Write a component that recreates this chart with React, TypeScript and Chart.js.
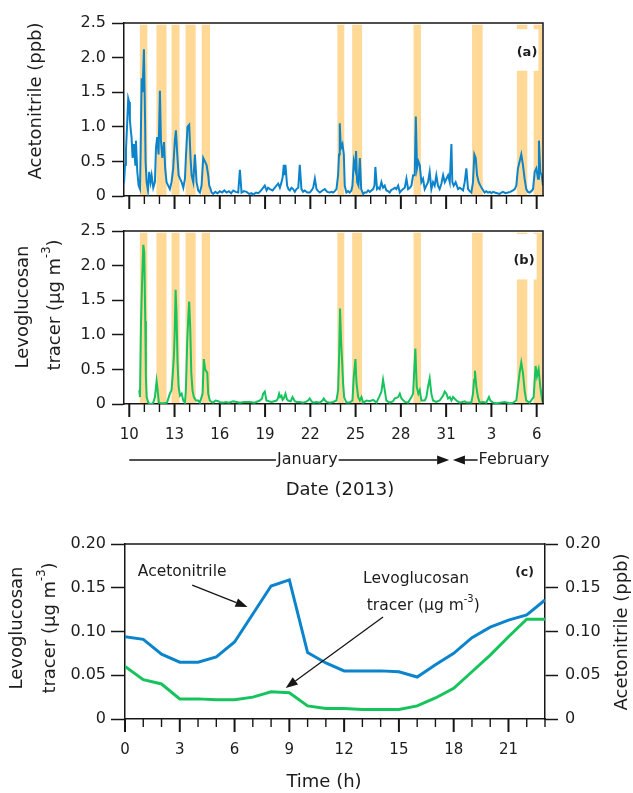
import { useEffect, useRef } from 'react';
import Chart from 'chart.js/auto';

// ---------------- Data ----------------
// Panel (a): acetonitrile (ppb); x = day counted from 1 January 2013 (Feb 1 = 32)
const acetoDays = [
  9.65, 9.72, 9.78, 9.86, 9.93, 9.99, 10.04, 10.1, 10.15, 10.22, 10.31, 10.4, 10.44, 10.53, 10.62, 10.71,
  10.75, 10.82, 10.88, 10.97, 11.04, 11.08, 11.15, 11.24, 11.32, 11.41, 11.48, 11.59, 11.7, 11.77, 11.85,
  11.94, 12.03, 12.1, 12.19, 12.3, 12.38, 12.47, 12.58, 12.69, 12.8, 12.91, 13.02, 13.09, 13.18, 13.27,
  13.36, 13.47, 13.58, 13.69, 13.75, 13.86, 13.97, 14.06, 14.13, 14.24, 14.35, 14.46, 14.57, 14.68, 14.79,
  14.9, 15.01, 15.12, 15.23, 15.3, 15.39, 15.45, 15.56, 15.7, 15.85, 16.0, 16.15, 16.3, 16.45, 16.6, 16.75,
  16.89, 17.05, 17.22, 17.33, 17.44, 17.6, 17.77, 17.95, 18.1, 18.21, 18.4, 18.55, 18.65, 18.8, 18.98, 19.1,
  19.2, 19.32, 19.5, 19.65, 19.75, 19.87, 19.98, 20.09, 20.17, 20.24, 20.3, 20.35, 20.46, 20.55, 20.64,
  20.75, 20.86, 20.97, 21.08, 21.2, 21.3, 21.41, 21.52, 21.63, 21.8, 21.96, 22.08, 22.19, 22.3, 22.41,
  22.52, 22.63, 22.8, 22.96, 23.12, 23.29, 23.4, 23.51, 23.62, 23.73, 23.84, 23.9, 23.95, 24.0, 24.04,
  24.13, 24.22, 24.28, 24.39, 24.5, 24.61, 24.72, 24.79, 24.88, 24.97, 25.03, 25.1, 25.19, 25.28, 25.37,
  25.5, 25.6, 25.72, 25.83, 25.94, 26.05, 26.16, 26.25, 26.31, 26.42, 26.5, 26.6, 26.71, 26.82, 26.93,
  27.04, 27.15, 27.26, 27.37, 27.48, 27.6, 27.7, 27.82, 27.93, 28.04, 28.15, 28.26, 28.37, 28.48, 28.6,
  28.7, 28.81, 28.92, 28.99, 29.07, 29.16, 29.25, 29.36, 29.47, 29.58, 29.69, 29.8, 29.91, 30.02, 30.13,
  30.24, 30.35, 30.46, 30.57, 30.69, 30.8, 30.91, 31.02, 31.13, 31.24, 31.35, 31.41, 31.5, 31.63, 31.79,
  31.9, 32.01, 32.12, 32.23, 32.34, 32.45, 32.56, 32.67, 32.78, 32.87, 32.96, 33.05, 33.16, 33.27, 33.4,
  33.55, 33.66, 33.78, 33.9, 34.0, 34.11, 34.22, 34.38, 34.55, 34.66, 34.77, 34.93, 35.1, 35.25, 35.43,
  35.55, 35.65, 35.76, 35.87, 35.98, 36.09, 36.2, 36.31, 36.42, 36.53, 36.65, 36.76, 36.87, 36.98, 37.09,
  37.15, 37.24, 37.33, 37.42,
];
const acetoPpb = [
  0.18, 0.45, 0.66, 1.05, 1.41, 1.36, 1.1, 0.95, 0.85, 0.55, 0.75, 0.45, 0.8, 0.35, 0.15, 0.1,
  0.6, 1.7, 1.5, 2.12, 1.2, 0.5, 0.2, 0.08, 0.35, 0.2, 0.3, 0.12, 0.2, 0.7, 0.85,
  0.6, 1.52, 0.8, 0.55, 0.78, 0.4, 0.2, 0.15, 0.1, 0.2, 0.4, 0.8, 0.95, 0.6, 0.3,
  0.25, 0.2, 0.12, 0.25, 0.55, 1.0, 1.03, 0.55, 0.3, 0.2, 0.6, 0.2, 0.08, 0.05, 0.15,
  0.55, 0.5, 0.45, 0.3, 0.15, 0.1, 0.05, 0.03, 0.06, 0.04, 0.07, 0.05, 0.08, 0.05, 0.07, 0.04,
  0.08, 0.06, 0.05, 0.38, 0.05, 0.07, 0.06, 0.03, 0.04, 0.02, 0.05, 0.04, 0.06, 0.1, 0.15, 0.08,
  0.12, 0.1, 0.08, 0.12, 0.15, 0.18, 0.12, 0.2, 0.28, 0.45, 0.3, 0.45, 0.15, 0.1, 0.08,
  0.12, 0.1, 0.06, 0.1, 0.12, 0.45, 0.1, 0.06, 0.08, 0.05, 0.05, 0.08, 0.12, 0.25, 0.1,
  0.07, 0.05, 0.08, 0.1, 0.06, 0.05, 0.06, 0.05, 0.07, 0.1, 0.3, 0.6, 1.05, 0.8, 0.7,
  0.75, 0.6, 0.15, 0.05, 0.07, 0.05, 0.08, 0.15, 0.5, 0.4, 0.65, 0.2, 0.15, 0.55, 0.1,
  0.03, 0.05, 0.05, 0.08, 0.06, 0.08, 0.1, 0.15, 0.42, 0.1, 0.12, 0.1, 0.2, 0.12, 0.15,
  0.08, 0.07, 0.05, 0.09, 0.1, 0.12, 0.1, 0.15, 0.05, 0.08, 0.1, 0.12, 0.25, 0.1, 0.12,
  0.15, 0.3, 0.3, 1.15, 0.4, 0.5, 0.45, 0.2, 0.25, 0.1, 0.15, 0.2, 0.35, 0.1, 0.2,
  0.15, 0.3, 0.15, 0.1, 0.18, 0.3, 0.2, 0.25, 0.3, 0.2, 0.75, 0.2, 0.15, 0.2, 0.1,
  0.12, 0.1, 0.08, 0.2, 0.4, 0.1, 0.07, 0.05, 0.2, 0.6, 0.55, 0.3, 0.2, 0.15, 0.1,
  0.05, 0.07, 0.05, 0.06, 0.04, 0.06, 0.05, 0.04, 0.03, 0.05, 0.06, 0.04, 0.05, 0.06, 0.08,
  0.1, 0.15, 0.4, 0.5, 0.6, 0.45, 0.25, 0.1, 0.06, 0.05, 0.07, 0.1, 0.35, 0.4, 0.25,
  0.8, 0.35, 0.3, 0.15,
];

// Panel (b): levoglucosan tracer (µg m-3)
const levoDays = [
  10.66, 10.71, 10.77, 10.84, 10.93, 10.99, 11.06, 11.1, 11.15, 11.26, 11.37, 11.48, 11.59, 11.7, 11.81,
  11.88, 11.96, 12.1, 12.3, 12.5, 12.69, 12.8, 12.87, 12.96, 13.02, 13.07, 13.13, 13.2, 13.27, 13.36,
  13.47, 13.58, 13.69, 13.75, 13.84, 13.91, 13.97, 14.04, 14.11, 14.19, 14.28, 14.42, 14.57, 14.68,
  14.86, 14.94, 15.03, 15.17, 15.23, 15.34, 15.45, 15.56, 15.72, 15.89, 16.05, 16.23, 16.4, 16.6, 16.89,
  17.1, 17.33, 17.6, 17.99, 18.3, 18.65, 18.8, 18.87, 18.98, 19.09, 19.25, 19.43, 19.6, 19.76, 19.85,
  19.93, 20.0, 20.09, 20.16, 20.24, 20.35, 20.45, 20.53, 20.7, 20.82, 20.97, 21.1, 21.3, 21.5, 21.7,
  21.85, 21.96, 22.08, 22.19, 22.4, 22.63, 22.8, 22.89, 22.98, 23.07, 23.29, 23.51, 23.73, 23.84, 23.91,
  23.97, 24.04, 24.11, 24.17, 24.24, 24.39, 24.61, 24.79, 24.88, 24.99, 25.06, 25.17, 25.28, 25.39, 25.5,
  25.72, 25.94, 26.16, 26.38, 26.6, 26.71, 26.82, 26.93, 27.04, 27.26, 27.48, 27.59, 27.82, 27.93, 28.04,
  28.26, 28.48, 28.7, 28.81, 28.96, 29.05, 29.16, 29.25, 29.36, 29.58, 29.69, 29.8, 29.91, 30.02, 30.13,
  30.35, 30.57, 30.8, 30.91, 31.02, 31.13, 31.24, 31.35, 31.46, 31.68, 31.9, 32.23, 32.34, 32.67, 32.78,
  32.85, 32.91, 33.0, 33.11, 33.22, 33.44, 33.66, 33.84, 33.93, 34.11, 34.33, 34.6, 34.88, 35.21, 35.45,
  35.65, 35.76, 35.87, 35.98, 36.09, 36.2, 36.31, 36.53, 36.8, 36.93, 37.02, 37.13, 37.24, 37.37, 37.42,
];
const levoUg = [
  0.2, 0.1, 1.1, 1.7, 2.3, 2.2, 1.2, 0.4, 0.1, 0.02, 0.0, 0.0, 0.02, 0.1, 0.33,
  0.2, 0.02, 0.01, 0.01, 0.02, 0.15, 0.2, 0.4, 0.7, 1.1, 1.65, 1.3, 0.6, 0.25, 0.12,
  0.15, 0.05, 0.02, 0.2, 0.9, 1.25, 1.48, 1.1, 0.45, 0.2, 0.1, 0.05, 0.05, 0.02,
  0.15, 0.65, 0.5, 0.45, 0.15, 0.05, 0.03, 0.02, 0.05, 0.04, 0.02, 0.02, 0.03, 0.02, 0.04,
  0.03, 0.02, 0.03, 0.03, 0.02, 0.05, 0.08, 0.15, 0.18, 0.05, 0.04, 0.03, 0.04, 0.05, 0.08,
  0.15, 0.1, 0.12, 0.06, 0.08, 0.15, 0.07, 0.05, 0.04, 0.1, 0.04, 0.03, 0.03, 0.02, 0.03,
  0.05, 0.08, 0.04, 0.02, 0.03, 0.02, 0.05, 0.08, 0.05, 0.03, 0.02, 0.03, 0.05, 0.2, 0.7,
  1.38, 0.9, 0.6, 0.3, 0.1, 0.02, 0.02, 0.05, 0.4, 0.65, 0.3, 0.1, 0.05, 0.1, 0.02,
  0.05, 0.04, 0.06, 0.02, 0.12, 0.18, 0.35, 0.2, 0.05, 0.02, 0.04, 0.08, 0.1, 0.15, 0.08,
  0.03, 0.02, 0.1, 0.15, 0.8, 0.25, 0.15, 0.2, 0.05, 0.05, 0.1, 0.25, 0.37, 0.15, 0.05,
  0.03, 0.05, 0.12, 0.18, 0.15, 0.08, 0.1, 0.05, 0.1, 0.05, 0.02, 0.04, 0.02, 0.02, 0.15,
  0.35, 0.48, 0.25, 0.1, 0.02, 0.03, 0.02, 0.1, 0.05, 0.02, 0.01, 0.02, 0.03, 0.01, 0.02,
  0.05, 0.25, 0.45, 0.6, 0.45, 0.2, 0.05, 0.02, 0.1, 0.55, 0.4, 0.5, 0.25, 0.05, 0.02,
];

// Shaded periods (days)
const bandStarts = [10.7, 11.8, 12.8, 13.73, 14.8, 23.79, 24.77, 28.84, 32.72, 35.69, 36.8];
const bandEnds = [11.2, 12.47, 13.33, 14.4, 15.35, 24.25, 25.43, 29.33, 33.42, 36.38, 37.42];

// Date axis ticks
const dateMajorDays = [10, 13, 16, 19, 22, 25, 28, 31, 34, 37];
const dateMajorLabels = ['10', '13', '16', '19', '22', '25', '28', '31', '3', '6'];

// Panel (c): diurnal profiles
const hours = [0, 1, 2, 3, 4, 5, 6, 7, 8, 9, 10, 11, 12, 13, 14, 15, 16, 17, 18, 19, 20, 21, 22, 23];
const acetoDiurnal = [0.094, 0.091, 0.074, 0.065, 0.065, 0.071, 0.088, 0.12, 0.152, 0.159, 0.076, 0.064,
  0.055, 0.055, 0.055, 0.054, 0.048, 0.062, 0.075, 0.093, 0.105, 0.113, 0.119, 0.136];
const levoDiurnal = [0.06, 0.045, 0.04, 0.023, 0.023, 0.022, 0.022, 0.025, 0.031, 0.03, 0.015, 0.012,
  0.012, 0.011, 0.011, 0.011, 0.015, 0.024, 0.035, 0.054, 0.073, 0.094, 0.114, 0.114];
const hourMajor = [0, 3, 6, 9, 12, 15, 18, 21];
const hourLabels = ['0', '3', '6', '9', '12', '15', '18', '21'];

// ---------------- Styles ----------------
const FONT = '"DejaVu Sans", sans-serif';
const TEXT = '#1c1c1c';
const AXIS = '#161616';
const BLUE = '#0c84cc';
const GREEN = '#16c35c';
const BAND = '#ffd995';

type Part = { t: string; sup?: boolean };

function drawRich(ctx: CanvasRenderingContext2D, parts: Part[], cx: number, cy: number, size: number, rotate: boolean, weight = '') {
  ctx.save();
  ctx.translate(cx, cy);
  if (rotate) ctx.rotate(-Math.PI / 2);
  ctx.textBaseline = 'middle';
  ctx.textAlign = 'left';
  ctx.fillStyle = TEXT;
  const supSize = size * 0.64;
  const fontOf = (p: Part) => `${weight} ${p.sup ? supSize : size}px ${FONT}`;
  let w = 0;
  for (const p of parts) { ctx.font = fontOf(p); w += ctx.measureText(p.t).width; }
  let x = -w / 2;
  for (const p of parts) {
    ctx.font = fontOf(p);
    ctx.fillText(p.t, x, p.sup ? -size * 0.45 : 0);
    x += ctx.measureText(p.t).width;
  }
  ctx.restore();
}

function drawArrow(ctx: CanvasRenderingContext2D, x1: number, y1: number, x2: number, y2: number, len = 12, half = 4.5, lw = 1.3) {
  const a = Math.atan2(y2 - y1, x2 - x1);
  const bx = x2 - len * Math.cos(a);
  const by = y2 - len * Math.sin(a);
  ctx.save();
  ctx.strokeStyle = AXIS; ctx.fillStyle = AXIS; ctx.lineWidth = lw;
  ctx.beginPath(); ctx.moveTo(x1, y1); ctx.lineTo(bx, by); ctx.stroke();
  ctx.beginPath(); ctx.moveTo(x2, y2);
  ctx.lineTo(bx + half * Math.sin(a), by - half * Math.cos(a));
  ctx.lineTo(bx - half * Math.sin(a), by + half * Math.cos(a));
  ctx.closePath(); ctx.fill();
  ctx.restore();
}

function drawXTicks(chart: any, from: number, to: number, majors: number[], majorLen: number, minorLen: number) {
  const { ctx, chartArea } = chart;
  const x = chart.scales.x;
  ctx.save();
  ctx.strokeStyle = AXIS;
  for (let d = from; d <= to; d++) {
    const major = majors.includes(d);
    const px = x.getPixelForValue(d);
    ctx.lineWidth = major ? 2 : 1.4;
    ctx.beginPath();
    ctx.moveTo(px, chartArea.bottom);
    ctx.lineTo(px, chartArea.bottom + (major ? majorLen : minorLen));
    ctx.stroke();
  }
  ctx.restore();
}

function drawXLabels(chart: any, values: number[], labels: string[], dy: number, size: number) {
  const { ctx, chartArea } = chart;
  const x = chart.scales.x;
  ctx.save();
  ctx.fillStyle = TEXT;
  ctx.font = `${size}px ${FONT}`;
  ctx.textAlign = 'center';
  ctx.textBaseline = 'middle';
  values.forEach((v, i) => ctx.fillText(labels[i], x.getPixelForValue(v), chartArea.bottom + dy));
  ctx.restore();
}

function drawFrame(chart: any, right: boolean) {
  const { ctx, chartArea: ca } = chart;
  ctx.save();
  ctx.strokeStyle = AXIS;
  ctx.lineWidth = 1.5;
  ctx.beginPath();
  ctx.moveTo(ca.left - 0.75, ca.top);
  ctx.lineTo(ca.right, ca.top);
  if (right) ctx.lineTo(ca.right, ca.bottom);
  ctx.stroke();
  ctx.restore();
}

function drawBands(chart: any) {
  const { ctx, chartArea: ca } = chart;
  const x = chart.scales.x;
  const y = chart.scales.y;
  ctx.save();
  ctx.fillStyle = BAND;
  const top = y.getPixelForValue(2.475);
  bandStarts.forEach((s, i) => {
    const x0 = x.getPixelForValue(s);
    const x1 = Math.min(x.getPixelForValue(bandEnds[i]), ca.right - 1);
    ctx.fillRect(x0, top, x1 - x0, ca.bottom - 1 - top);
  });
  ctx.restore();
}

function drawPanelTag(chart: any, d0: number, d1: number, v0: number, v1: number, text: string, td: number, tv: number) {
  const { ctx } = chart;
  const x = chart.scales.x;
  const y = chart.scales.y;
  ctx.save();
  ctx.fillStyle = '#ffffff';
  const px0 = x.getPixelForValue(d0), px1 = x.getPixelForValue(d1);
  const py0 = y.getPixelForValue(v0), py1 = y.getPixelForValue(v1);
  ctx.fillRect(px0, py0, px1 - px0, py1 - py0);
  ctx.restore();
  drawRich(ctx, [{ t: text }], x.getPixelForValue(td), y.getPixelForValue(tv), 13, false, 'bold');
}

const yTickLabel = (v: any) => (Number(v) === 0 ? '0' : Number(v).toFixed(1));
const yTickLabel2 = (v: any) => (Number(v) === 0 ? '0' : Number(v).toFixed(2));

function timeSeriesConfig(days: number[], vals: number[], color: string, height: number, top: number, bottom: number, plugin: any): any {
  return {
    type: 'line',
    data: {
      datasets: [{
        data: days.map((d, i) => ({ x: d, y: vals[i] })),
        borderColor: color,
        borderWidth: 2,
        pointRadius: 0,
        tension: 0,
        fill: false,
      }],
    },
    options: {
      responsive: false,
      animation: false,
      events: [],
      layout: { padding: { top, right: 633 - 543, left: 0, bottom: 0 } },
      plugins: { legend: { display: false }, tooltip: { enabled: false } },
      scales: {
        x: {
          type: 'linear', min: 9.65, max: 37.42,
          ticks: { display: false },
          grid: { display: true, drawOnChartArea: false, drawTicks: false },
          border: { color: AXIS, width: 1.5 },
          afterFit: (s: any) => { s.height = height - bottom; },
        },
        y: {
          min: 0, max: 2.5,
          ticks: { stepSize: 0.5, color: TEXT, font: { family: FONT, size: 16 }, padding: 6, callback: yTickLabel },
          grid: { drawOnChartArea: false, tickLength: 12, tickColor: AXIS, tickWidth: 1.5 },
          border: { color: AXIS, width: 1.5 },
          afterFit: (s: any) => { s.width = 124; },
        },
      },
    },
    plugins: [plugin],
  };
}

export default function App() {
  const refA = useRef<HTMLCanvasElement>(null);
  const refB = useRef<HTMLCanvasElement>(null);
  const refC = useRef<HTMLCanvasElement>(null);

  useEffect(() => {
    const pluginA = {
      id: 'panelA',
      beforeDatasetsDraw(chart: any) {
        drawBands(chart);
        drawPanelTag(chart, 35.65, 37.12, 2.41, 1.81, '(a)', 36.36, 2.07);
      },
      afterDraw(chart: any) {
        drawFrame(chart, true);
        drawXTicks(chart, 10, 37, dateMajorDays, 13, 8);
        drawRich(chart.ctx, [{ t: 'Acetonitrile (ppb)' }], 36, 101, 18, true);
      },
    };
    const pluginB = {
      id: 'panelB',
      beforeDatasetsDraw(chart: any) {
        drawBands(chart);
        drawPanelTag(chart, 35.65, 37.0, 2.455, 1.8, '(b)', 36.16, 2.07);
      },
      afterDraw(chart: any) {
        const { ctx, chartArea: ca } = chart;
        const x = chart.scales.x;
        drawFrame(chart, true);
        drawXTicks(chart, 10, 37, dateMajorDays, 13, 8);
        drawXLabels(chart, dateMajorDays, dateMajorLabels, 31, 15);
        drawRich(ctx, [{ t: 'Levoglucosan' }], 23, 92, 18, true);
        drawRich(ctx, [{ t: 'tracer (µg m' }, { t: '-3', sup: true }, { t: ')' }], 55, 90, 18, true);
        // month row
        const yy = ca.bottom + 56;
        ctx.save();
        ctx.font = `16px ${FONT}`;
        const janW = ctx.measureText('January').width;
        const febW = ctx.measureText('February').width;
        ctx.restore();
        const janC = x.getPixelForValue(21.8);
        const febC = x.getPixelForValue(35.5);
        ctx.save();
        ctx.strokeStyle = AXIS; ctx.lineWidth = 1.5;
        ctx.beginPath();
        ctx.moveTo(x.getPixelForValue(10), yy); ctx.lineTo(janC - janW / 2 - 1, yy);
        ctx.stroke();
        ctx.restore();
        drawArrow(ctx, janC + janW / 2 + 1, yy, x.getPixelForValue(31.2), yy, 12, 4.5, 1.5);
        drawArrow(ctx, febC - febW / 2 - 1, yy, x.getPixelForValue(31.45), yy, 12, 4.5, 1.5);
        drawRich(ctx, [{ t: 'January' }], janC, yy, 16, false);
        drawRich(ctx, [{ t: 'February' }], febC, yy, 16, false);
        drawRich(ctx, [{ t: 'Date (2013)' }], 340, 275, 18, false);
      },
    };
    const pluginC = {
      id: 'panelC',
      afterDraw(chart: any) {
        const { ctx } = chart;
        const x = chart.scales.x;
        const y = chart.scales.y;
        const P = (h: number, v: number): [number, number] => [x.getPixelForValue(h), y.getPixelForValue(v)];
        drawFrame(chart, false);
        drawXTicks(chart, 0, 23, hourMajor, 13, 8);
        drawXLabels(chart, hourMajor, hourLabels, 31, 15);
        drawRich(ctx, [{ t: 'Levoglucosan' }], 17, 113, 18, true);
        drawRich(ctx, [{ t: 'tracer (µg m' }, { t: '-3', sup: true }, { t: ')' }], 50, 113, 18, true);
        drawRich(ctx, [{ t: 'Acetonitrile (ppb)' }], 622, 117, 18, true);
        drawRich(ctx, [{ t: 'Time (h)' }], 324, 267, 18, false);
        let [ax, ay] = P(3.13, 0.168);
        drawRich(ctx, [{ t: 'Acetonitrile' }], ax, ay, 15.5, false);
        [ax, ay] = P(15.94, 0.16);
        drawRich(ctx, [{ t: 'Levoglucosan' }], ax, ay, 15.5, false);
        [ax, ay] = P(16.33, 0.129);
        drawRich(ctx, [{ t: 'tracer (µg m' }, { t: '-3', sup: true }, { t: ')' }], ax, ay, 15.5, false);
        [ax, ay] = P(21.88, 0.167);
        drawRich(ctx, [{ t: '(c)' }], ax, ay, 12.5, false, 'bold');
        const a1 = P(3.68, 0.153), a2 = P(6.71, 0.128);
        drawArrow(ctx, a1[0], a1[1], a2[0], a2[1], 12, 4.5, 1.3);
        const b1 = P(14.13, 0.1166), b2 = P(8.8, 0.0354);
        drawArrow(ctx, b1[0], b1[1], b2[0], b2[1], 12, 4.5, 1.3);
      },
    };

    const cfgC: any = {
      type: 'line',
      data: {
        datasets: [
          {
            data: hours.map((h, i) => ({ x: h, y: acetoDiurnal[i] })),
            yAxisID: 'y2', borderColor: BLUE, borderWidth: 3, pointRadius: 0, tension: 0, fill: false,
          },
          {
            data: hours.map((h, i) => ({ x: h, y: levoDiurnal[i] })),
            yAxisID: 'y', borderColor: GREEN, borderWidth: 3, pointRadius: 0, tension: 0, fill: false,
          },
        ],
      },
      options: {
        responsive: false,
        animation: false,
        events: [],
        layout: { padding: { top: 29, right: 0, left: 0, bottom: 0 } },
        plugins: { legend: { display: false }, tooltip: { enabled: false } },
        scales: {
          x: {
            type: 'linear', min: 0, max: 23,
            ticks: { display: false },
            grid: { display: true, drawOnChartArea: false, drawTicks: false },
            border: { color: AXIS, width: 1.5 },
            afterFit: (s: any) => { s.height = 278 - 204; },
          },
          y: {
            position: 'left', min: 0, max: 0.2,
            ticks: { stepSize: 0.05, color: TEXT, font: { family: FONT, size: 16 }, padding: 5, callback: yTickLabel2 },
            grid: { drawOnChartArea: false, tickLength: 14, tickColor: AXIS, tickWidth: 1.5 },
            border: { color: AXIS, width: 1.5 },
            afterFit: (s: any) => { s.width = 125; },
          },
          y2: {
            position: 'right', min: 0, max: 0.2,
            ticks: { stepSize: 0.05, color: TEXT, font: { family: FONT, size: 16 }, padding: 7, callback: yTickLabel2 },
            grid: { drawOnChartArea: false, tickLength: 13, tickColor: AXIS, tickWidth: 1.5 },
            border: { color: AXIS, width: 1.5 },
            afterFit: (s: any) => { s.width = 633 - 545; },
          },
        },
      },
      plugins: [pluginC],
    };

    const charts = [
      new Chart(refA.current!, timeSeriesConfig(acetoDays, acetoPpb, BLUE, 215, 23, 196, pluginA)),
      new Chart(refB.current!, timeSeriesConfig(levoDays, levoUg, GREEN, 300, 16, 189, pluginB)),
      new Chart(refC.current!, cfgC),
    ];
    return () => charts.forEach((c) => c.destroy());
  }, []);

  return (
    <div style={{ position: 'absolute', left: 0, top: 0, width: 633, height: 793, background: '#ffffff', overflow: 'hidden' }}>
      <canvas ref={refA} width={633} height={215} style={{ position: 'absolute', left: 0, top: 0, width: 633, height: 215 }} />
      <canvas ref={refB} width={633} height={300} style={{ position: 'absolute', left: 0, top: 215, width: 633, height: 300 }} />
      <canvas ref={refC} width={633} height={278} style={{ position: 'absolute', left: 0, top: 515, width: 633, height: 278 }} />
    </div>
  );
}
